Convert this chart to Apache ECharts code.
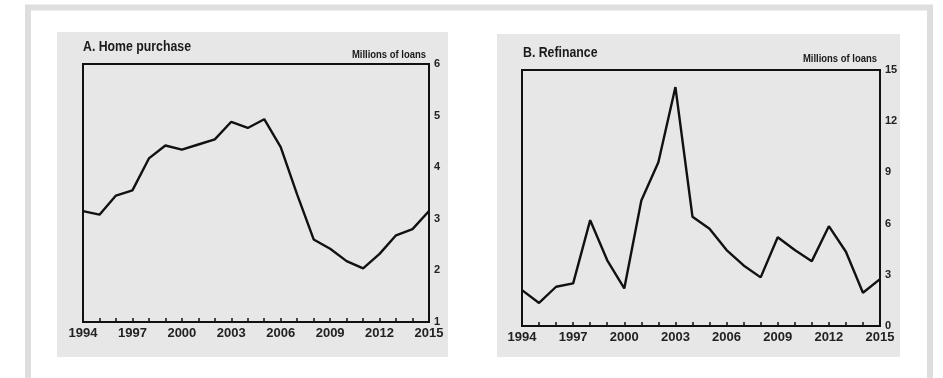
<!DOCTYPE html>
<html>
<head>
<meta charset="utf-8">
<script src="https://cdn.jsdelivr.net/npm/echarts@6/dist/echarts.min.js"></script>
<style>
    html, body { margin: 0; padding: 0; background: #fff; }
    #chart { width: 943px; height: 378px; }
</style>
</head>
<body>
<div id="chart"></div>
<script>
// years 1994..2015
const years = ['1994', '1995', '1996', '1997', '1998', '1999', '2000', '2001', '2002', '2003', '2004',
    '2005', '2006', '2007', '2008', '2009', '2010', '2011', '2012', '2013', '2014', '2015']
// A. Home purchase, millions of loans
const homePurchase = [3.15, 3.08, 3.45, 3.55, 4.17, 4.42, 4.34, 4.44, 4.54, 4.88, 4.76,
    4.93, 4.39, 3.47, 2.6, 2.42, 2.18, 2.04, 2.32, 2.68, 2.8, 3.15]
// B. Refinance, millions of loans
const refinance = [2.1, 1.35, 2.3, 2.5, 6.2, 3.85, 2.2, 7.35, 9.6, 14.0, 6.4,
    5.7, 4.45, 3.55, 2.85, 5.2, 4.45, 3.8, 5.85, 4.35, 1.95, 2.75]
const yTicksA = [1, 6, 1]  // min, max, interval
const yTicksB = [0, 15, 3]

const FONT = '"Liberation Sans", Arial, sans-serif'
const PANEL_BG = '#e7e7e7'

const xAxisCommon = function (gridIndex) {
    return {
        type: 'category',
        gridIndex: gridIndex,
        data: years,
        boundaryGap: false,
        axisLine: {show: true, lineStyle: {color: '#111', width: 2}},
        axisTick: {show: true, inside: true, length: 4, interval: 0, lineStyle: {color: '#111', width: 1.5}},
        axisLabel: {
            interval: function (i) { return i % 3 === 0 },
            margin: 5,
            color: '#222',
            fontFamily: FONT,
            fontWeight: 'bold',
            fontSize: 13,
            showMinLabel: true,
            showMaxLabel: true
        },
        splitLine: {show: false}
    }
}

const yAxisCommon = function (gridIndex, ticks) {
    return {
        type: 'value',
        gridIndex: gridIndex,
        position: 'right',
        min: ticks[0],
        max: ticks[1],
        interval: ticks[2],
        axisLine: {show: false},
        axisTick: {show: false},
        splitLine: {show: false},
        axisLabel: {
            margin: 5,
            color: '#222',
            fontFamily: FONT,
            fontWeight: 'bold',
            fontSize: 11,
            padding: [0, 0, 8, 0]
        }
    }
}

const lineSeries = function (idx, data) {
    return {
        type: 'line',
        xAxisIndex: idx,
        yAxisIndex: idx,
        data: data,
        symbol: 'none',
        silent: true,
        lineStyle: {color: '#111', width: 2.4},
        z: 3
    }
}

// text drawn slightly condensed, like the original print font
const textEl = function (x, y, text, size, align, weight, sx) {
    return {
        type: 'text',
        x: x,
        y: y,
        scaleX: sx,
        z: 10,
        style: {
            text: text,
            fill: '#1a1a1a',
            font: weight + ' ' + size + 'px ' + FONT,
            textAlign: align,
            textVerticalAlign: 'middle'
        }
    }
}

const chart = echarts.init(document.getElementById('chart'))
chart.setOption({
    backgroundColor: '#fff',
    animation: false,
    graphic: [
        // outer frame
        {type: 'rect', z: -10, shape: {x: 28, y: 7.5, width: 902, height: 420},
            style: {fill: 'none', stroke: '#dedede', lineWidth: 6}},
        // panel backgrounds
        {type: 'rect', z: -9, shape: {x: 57, y: 32, width: 391, height: 325}, style: {fill: PANEL_BG}},
        {type: 'rect', z: -9, shape: {x: 497, y: 34, width: 403, height: 323}, style: {fill: PANEL_BG}},
        textEl(83, 47, 'A. Home purchase', 15, 'left', 'bold', 0.82),
        textEl(426, 55, 'Millions of loans', 11, 'right', 'bold', 0.86),
        textEl(523, 53, 'B. Refinance', 15, 'left', 'bold', 0.82),
        textEl(877, 59, 'Millions of loans', 11, 'right', 'bold', 0.86)
    ],
    grid: [
        {left: 83, right: 514, top: 64, bottom: 56, show: true, borderColor: '#111', borderWidth: 2, backgroundColor: 'transparent'},
        {left: 522, right: 63, top: 70, bottom: 52, show: true, borderColor: '#111', borderWidth: 2, backgroundColor: 'transparent'}
    ],
    xAxis: [xAxisCommon(0), xAxisCommon(1)],
    yAxis: [yAxisCommon(0, yTicksA), yAxisCommon(1, yTicksB)],
    series: [lineSeries(0, homePurchase), lineSeries(1, refinance)]
})
</script>
</body>
</html>
